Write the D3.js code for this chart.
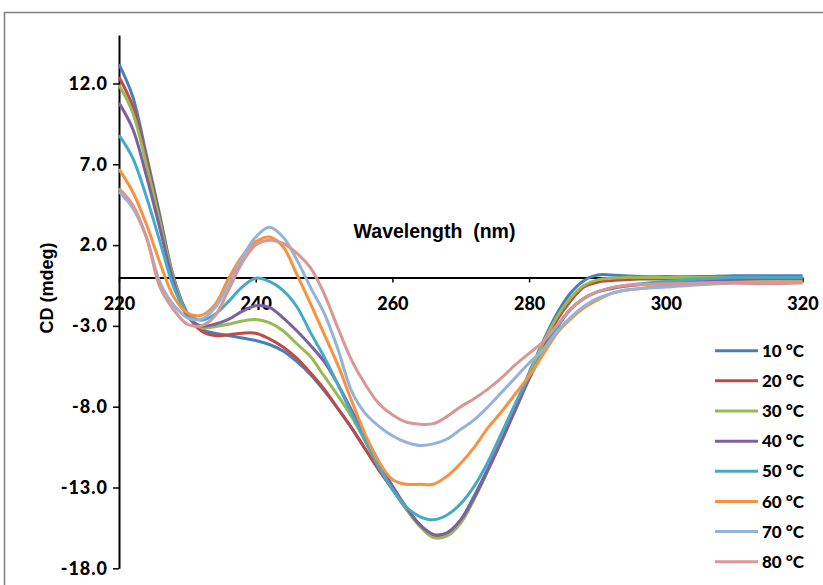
<!DOCTYPE html>
<html><head><meta charset="utf-8">
<script src="https://cdn.jsdelivr.net/npm/d3@7"></script>
<style>body{margin:0;background:#fff}svg{display:block}</style>
</head><body>
<svg id="c" width="823" height="585"></svg>
<script>
const wavelengths = [220,222,224,226,228,230,232,234,236,238,240,242,244,246,248,250,252,254,256,258,260,262,264,266,268,270,272,274,276,278,280,282,284,286,288,290,292,294,296,300,305,310,315,320];
const s10 = [13.2,11.2,7.6,3.8,0.0,-2.2,-3.2,-3.45,-3.6,-3.75,-3.9,-4.15,-4.55,-5.2,-6.0,-7.0,-8.1,-9.3,-10.6,-11.9,-13.1,-14.3,-15.3,-15.95,-15.8,-15.0,-13.5,-11.8,-9.9,-7.9,-5.9,-4.0,-2.3,-1.0,-0.2,0.15,0.15,0.1,0.05,0.05,0.05,0.1,0.1,0.1];
const s20 = [12.4,10.6,7.3,3.6,-0.1,-2.3,-3.3,-3.6,-3.55,-3.45,-3.45,-3.8,-4.3,-5.0,-5.9,-6.9,-8.1,-9.3,-10.6,-11.9,-13.1,-14.3,-15.3,-16.0,-15.9,-15.1,-13.6,-11.9,-10.0,-8.0,-6.1,-4.3,-2.7,-1.5,-0.6,-0.3,-0.2,-0.15,-0.1,-0.1,-0.1,-0.1,-0.1,-0.1];
const s30 = [11.9,10.2,7.0,3.4,-0.1,-2.3,-3.1,-3.05,-2.9,-2.7,-2.6,-2.8,-3.3,-4.1,-4.9,-6.1,-7.3,-8.6,-10.1,-11.7,-13.0,-14.3,-15.4,-16.1,-16.0,-15.2,-13.7,-11.9,-10.0,-8.0,-6.0,-4.1,-2.5,-1.3,-0.5,-0.15,-0.05,0.0,0.0,0.0,0.0,0.0,0.0,0.0];
const s40 = [10.8,9.2,6.3,3.0,-0.3,-2.4,-3.0,-2.9,-2.6,-2.1,-1.75,-1.85,-2.5,-3.3,-4.2,-5.2,-6.6,-8.2,-9.8,-11.4,-12.9,-14.2,-15.3,-15.9,-15.8,-15.0,-13.6,-11.9,-10.1,-8.2,-6.3,-4.6,-3.1,-2.0,-1.3,-0.9,-0.7,-0.55,-0.45,-0.3,-0.2,-0.15,-0.15,-0.1];
const s50 = [8.8,7.4,5.0,2.2,-0.6,-2.2,-2.65,-2.3,-1.5,-0.6,-0.05,-0.25,-0.8,-1.8,-3.4,-4.9,-6.6,-8.4,-10.1,-11.7,-13.1,-14.2,-14.8,-15.0,-14.7,-14.0,-12.9,-11.4,-9.6,-7.8,-6.1,-4.6,-3.2,-2.0,-1.3,-0.9,-0.65,-0.5,-0.4,-0.25,-0.1,0.0,0.0,0.0];
const s60 = [6.7,5.3,3.3,0.9,-1.2,-2.2,-2.35,-1.7,-0.1,1.3,2.2,2.5,1.9,0.2,-1.6,-3.5,-5.4,-7.6,-9.7,-11.4,-12.5,-12.8,-12.8,-12.8,-12.3,-11.5,-10.5,-9.3,-8.3,-7.2,-6.1,-4.8,-3.5,-2.6,-1.9,-1.4,-1.0,-0.8,-0.7,-0.5,-0.35,-0.3,-0.25,-0.25];
const s70 = [5.3,4.3,2.5,-0.3,-1.7,-2.5,-2.6,-1.9,-0.5,1.2,2.5,3.1,2.5,1.1,-0.6,-2.2,-4.4,-7.0,-8.4,-9.2,-9.8,-10.2,-10.4,-10.3,-10.0,-9.4,-8.8,-8.0,-7.1,-6.2,-5.3,-4.5,-3.4,-2.5,-1.8,-1.3,-1.0,-0.8,-0.7,-0.6,-0.45,-0.35,-0.3,-0.3];
const s80 = [5.5,4.5,2.5,-0.6,-2.0,-2.9,-3.0,-2.4,-0.8,0.9,2.0,2.3,2.1,1.5,0.6,-1.0,-3.1,-5.1,-6.6,-7.8,-8.5,-8.95,-9.08,-9.05,-8.6,-8.0,-7.5,-6.9,-6.2,-5.4,-4.7,-4.0,-3.0,-2.0,-1.3,-0.9,-0.65,-0.5,-0.45,-0.4,-0.35,-0.35,-0.4,-0.35];
const seriesNames = ["10 \u00B0C","20 \u00B0C","30 \u00B0C","40 \u00B0C","50 \u00B0C","60 \u00B0C","70 \u00B0C","80 \u00B0C"];
const seriesColors = ["#4A7EBB","#BE4B48","#98B954","#7D60A0","#46AAC5","#F69240","#95B3D7","#D99694"];
const seriesValues = [s10,s20,s30,s40,s50,s60,s70,s80];
const xTicks = [220,240,260,280,300,320];
const yTicks = [-18,-13,-8,-3,2,7,12];

const svg = d3.select("#c");
svg.append("rect").attr("x",4.5).attr("y",12.5).attr("width",900).attr("height",700)
  .attr("fill","#fff").attr("stroke","#7f7f7f").attr("stroke-width",1.5);

const x = d3.scaleLinear().domain([220,320]).range([119,802.5]);
const y = d3.scaleLinear().domain([-18,15]).range([568.3,35]);

// y axis
const yAxis = d3.axisLeft(y).tickValues(yTicks).tickFormat(d => d.toFixed(1)).tickSize(6).tickSizeOuter(0);
const gy = svg.append("g").attr("transform","translate(119,0)").call(yAxis);
gy.select(".domain").attr("stroke","#000").attr("stroke-width",2);
gy.selectAll(".tick line").attr("stroke","#000").attr("stroke-width",1.5);
gy.selectAll(".tick text").attr("x",-11).attr("font-family","Lato, 'Open Sans', sans-serif")
  .attr("font-weight","900").attr("font-size","18px").attr("fill","#000").attr("letter-spacing","1px");

// x axis at y=0
const xAxis = d3.axisBottom(x).tickValues(xTicks).tickFormat(d => String(d)).tickSize(5).tickSizeOuter(0);
const gx = svg.append("g").attr("transform",`translate(0,${y(0)})`).call(xAxis);
gx.select(".domain").attr("stroke","#000").attr("stroke-width",2);
gx.selectAll(".tick line").attr("stroke","#000").attr("stroke-width",1.5);
gx.selectAll(".tick text").attr("y",27).attr("dy","0.32em").attr("font-family","Lato, 'Open Sans', sans-serif")
  .attr("font-weight","900").attr("font-size","18px").attr("fill","#000");

// lines
const line = d3.line().x((d,i)=>x(wavelengths[i])).y(d=>y(d)).curve(d3.curveCatmullRom.alpha(0.5));
svg.append("g").selectAll("path").data(seriesValues).join("path")
  .attr("d",d=>line(d)).attr("fill","none")
  .attr("stroke",(d,i)=>seriesColors[i]).attr("stroke-width",3).attr("stroke-linejoin","round");

// titles
svg.append("text").attr("x",434.5).attr("y",238).attr("text-anchor","middle")
  .attr("font-family","'Liberation Sans', Arial, sans-serif").attr("font-weight","bold").attr("font-size","19.5px")
  .style("white-space","pre").text("Wavelength  (nm)");
svg.append("text").attr("transform","translate(53,288) rotate(-90)").attr("text-anchor","middle")
  .attr("font-family","'Liberation Sans', Arial, sans-serif").attr("font-weight","bold").attr("font-size","18px")
  .text("CD (mdeg)");

// legend
const lg = svg.append("g");
seriesNames.forEach((n,i)=>{
  const yy = 350.7 + i*30.15;
  lg.append("line").attr("x1",715).attr("x2",758).attr("y1",yy).attr("y2",yy)
    .attr("stroke",seriesColors[i]).attr("stroke-width",3);
  lg.append("text").attr("x",762).attr("y",yy).attr("dy","0.36em")
    .attr("font-family","Lato, 'Open Sans', sans-serif").attr("font-weight","900").attr("font-size","17px")
    .text(n);
});
</script>
</body></html>
